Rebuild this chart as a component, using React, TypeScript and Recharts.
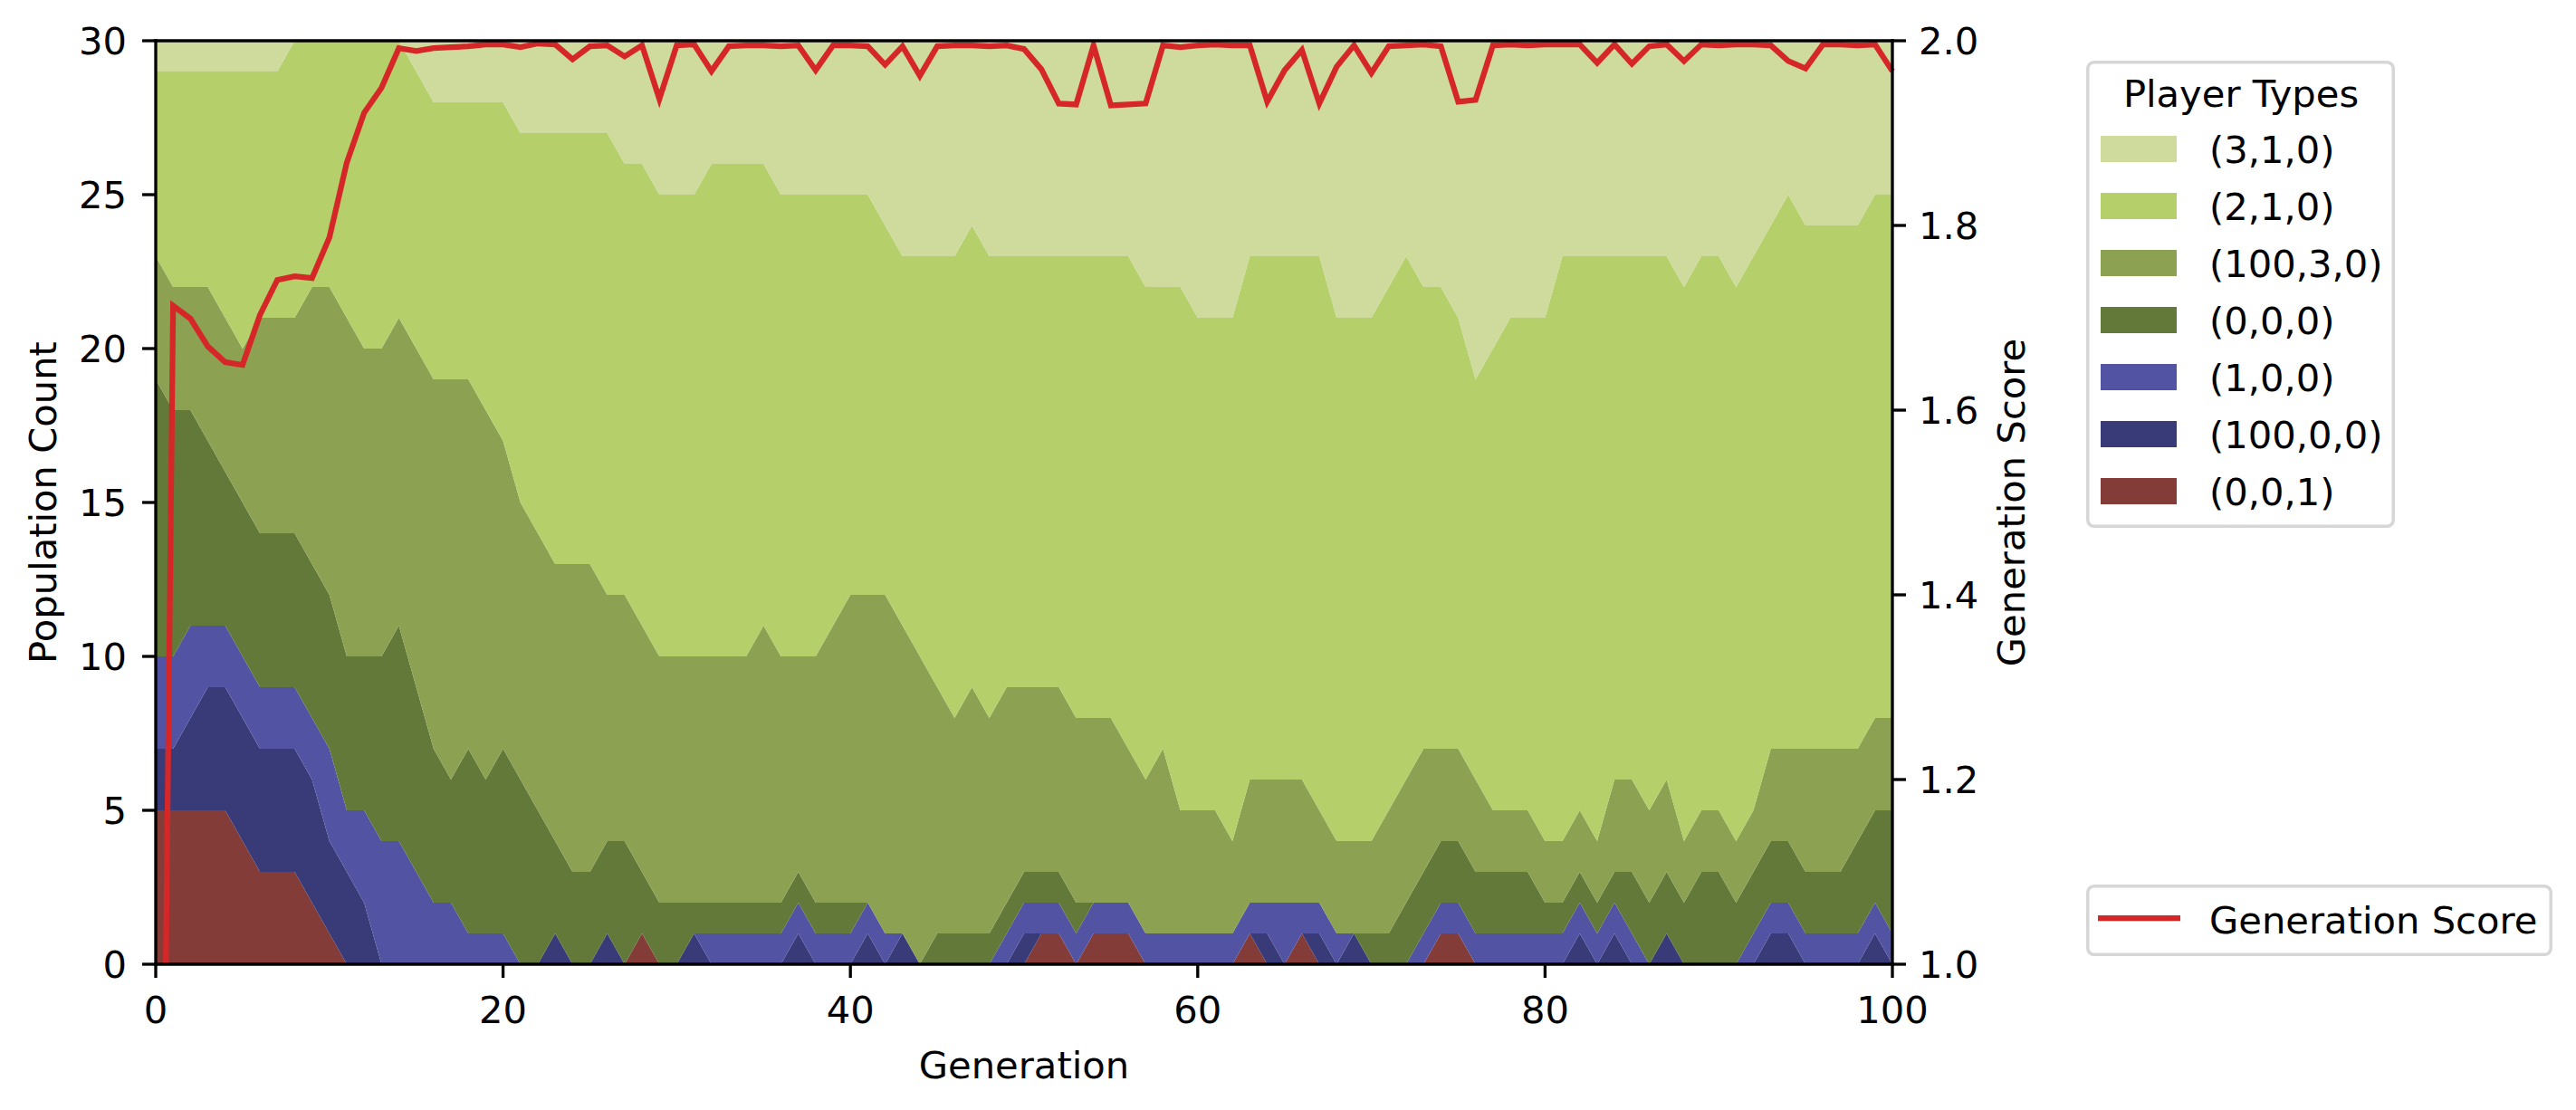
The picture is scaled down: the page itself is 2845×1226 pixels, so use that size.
import React from 'react';
import {
  ComposedChart,
  Area,
  Line,
  XAxis,
  YAxis,
  ReferenceLine,
  Label,
} from 'recharts';

// ---------- data ----------
const generations: number[] = Array.from({ length: 101 }, (_, i) => i);

// population counts per generation (stack order bottom -> top)
const p001 = [5,5,5,5,5,4,3,3,3,2,1,0,0,0,0,0,0,0,0,0,0,0,0,0,0,0,0,0,1,0,0,0,0,0,0,0,0,0,0,0,0,0,0,0,0,0,0,0,0,0,0,1,1,0,1,1,1,0,0,0,0,0,0,1,0,0,1,0,0,0,0,0,0,0,1,1,0,0,0,0,0,0,0,0,0,0,0,0,0,0,0,0,0,0,0,0,0,0,0,0,0];
const p10000 = [2,2,3,4,4,4,4,4,4,4,3,3,2,0,0,0,0,0,0,0,0,0,0,1,0,0,1,0,0,0,0,1,0,0,0,0,0,1,0,0,0,1,0,1,0,0,0,0,0,0,1,0,0,0,0,0,0,0,0,0,0,0,0,0,1,0,0,1,0,1,0,0,0,0,0,0,0,0,0,0,0,0,1,0,1,0,0,1,0,0,0,0,0,1,1,0,0,0,0,1,0];
const p100 = [3,3,3,2,2,2,2,2,2,2,3,2,3,4,4,3,2,2,1,1,1,0,0,0,0,0,0,0,0,0,0,0,1,1,1,1,1,1,1,1,1,1,1,0,0,0,0,0,0,1,1,1,1,1,1,1,1,1,1,1,1,1,1,1,1,2,1,1,1,0,0,0,0,1,1,1,1,1,1,1,1,1,1,1,1,1,0,0,0,0,0,0,1,1,1,1,1,1,1,1,1];
const p000 = [9,8,7,6,5,5,5,5,5,5,5,5,5,6,7,6,5,4,6,5,6,6,5,3,3,3,3,4,2,2,2,1,1,1,1,1,1,1,1,1,1,0,0,0,0,1,1,1,1,1,1,1,1,1,0,0,0,0,0,0,0,0,0,0,0,0,0,0,0,0,1,1,2,2,2,2,2,2,2,2,1,1,1,1,1,2,2,2,2,3,3,2,2,2,2,2,2,2,3,3,4];
const p10030 = [4,4,4,5,5,5,7,7,7,9,10,11,10,10,10,11,12,13,12,12,10,9,9,9,10,10,8,8,8,8,8,8,8,8,8,9,8,7,8,9,10,10,11,10,10,8,7,8,7,7,6,6,6,6,6,6,5,5,6,4,4,4,3,4,4,4,4,3,3,3,3,4,4,4,3,3,3,2,2,2,2,2,2,2,3,3,3,3,2,2,2,2,2,3,3,4,4,4,3,3,3];
const p210 = [6,7,7,7,8,9,8,8,9,8,8,9,10,10,9,9,9,9,9,10,11,12,13,14,14,14,15,14,15,15,15,15,16,16,16,15,15,15,15,14,13,13,12,12,13,14,15,15,15,14,14,14,14,15,15,15,16,16,15,17,16,16,17,17,17,17,17,18,17,17,17,17,17,15,15,14,13,15,16,16,17,19,18,19,17,17,18,17,18,18,18,18,18,17,18,17,17,17,17,17,17];
const p310 = [1,1,1,1,1,1,1,1,0,0,0,0,0,0,0,1,2,2,2,2,2,3,3,3,3,3,3,4,4,5,5,5,4,4,4,4,5,5,5,5,5,5,6,7,7,7,7,6,7,7,7,7,7,7,7,7,7,8,8,8,9,9,9,7,7,7,7,7,9,9,9,8,7,8,8,9,11,10,9,9,9,7,7,7,7,7,7,7,8,7,7,8,7,6,5,6,6,6,6,5,5];

// generation score (right axis)
const scores = [0,1.713,1.699,1.669,1.652,1.649,1.703,1.741,1.745,1.743,1.787,1.868,1.922,1.949,1.992,1.989,1.992,1.993,1.994,1.996,1.996,1.993,1.997,1.996,1.98,1.994,1.995,1.983,1.995,1.937,1.995,1.996,1.967,1.994,1.995,1.995,1.994,1.995,1.968,1.995,1.995,1.994,1.974,1.994,1.962,1.994,1.995,1.995,1.994,1.995,1.991,1.969,1.932,1.931,1.995,1.93,1.931,1.932,1.995,1.993,1.995,1.996,1.995,1.995,1.934,1.968,1.99,1.932,1.972,1.995,1.965,1.994,1.995,1.996,1.994,1.934,1.936,1.995,1.996,1.995,1.996,1.996,1.996,1.976,1.996,1.975,1.994,1.996,1.978,1.996,1.995,1.996,1.996,1.995,1.978,1.97,1.996,1.996,1.995,1.996,1.967];

const xTicks = [0, 20, 40, 60, 80, 100];
const leftTicks = [0, 5, 10, 15, 20, 25, 30];
const rightTicks = [1.0, 1.2, 1.4, 1.6, 1.8, 2.0];

const seriesKeys = ['p001', 'p10000', 'p100', 'p000', 'p10030', 'p210', 'p310'];
const seriesNames = ['(0,0,1)', '(100,0,0)', '(1,0,0)', '(0,0,0)', '(100,3,0)', '(2,1,0)', '(3,1,0)'];
const seriesColors = ['#843c39', '#393b79', '#5254a3', '#637939', '#8ca252', '#b5cf6b', '#cedb9c'];
const seriesValues = [p001, p10000, p100, p000, p10030, p210, p310];

const data = generations.map((g, i) => {
  const row: Record<string, number> = { gen: g, score: scores[i] };
  seriesKeys.forEach((k, j) => {
    row[k] = seriesValues[j][i];
  });
  return row;
});

// ---------- styles ----------
const FONT = 'DejaVu Sans';
const FS = 41.67;
const SPINE = 3.33;
const W = 2845;
const H = 1226;
const TOP = 45;
const LEFT_W = 172;
const RIGHT_W = 2845 - 2090;
const XAXIS_H = 1226 - 1065;

const tickStyle = { fill: '#000', fontSize: FS, fontFamily: FONT };
const axisLineStyle = { stroke: '#000', strokeWidth: SPINE, strokeLinecap: 'square' as const };
const tickLineStyle = { stroke: '#000', strokeWidth: SPINE };

const legendOrder = [6, 5, 4, 3, 2, 1, 0];

export default function App() {
  return (
    <div style={{ position: 'absolute', left: 0, top: 0, width: W, height: H, background: '#fff' }}>
      <ComposedChart
        width={W}
        height={H}
        data={data}
        margin={{ top: TOP, right: 0, bottom: 0, left: 0 }}
      >
        {seriesKeys.map((k, j) => (
          <Area
            key={k}
            yAxisId="left"
            dataKey={k}
            name={seriesNames[j]}
            stackId="pop"
            type="linear"
            stroke="none"
            fill={seriesColors[j]}
            fillOpacity={1}
            isAnimationActive={false}
            activeDot={false}
            dot={false}
          />
        ))}
        <Line
          yAxisId="right"
          dataKey="score"
          name="Generation Score"
          type="linear"
          stroke="#d62728"
          strokeWidth={6.25}
          dot={false}
          activeDot={false}
          isAnimationActive={false}
        />
        <XAxis
          dataKey="gen"
          type="number"
          domain={[0, 100]}
          ticks={xTicks}
          interval={0}
          height={XAXIS_H}
          tickSize={15}
          tickMargin={20}
          tick={tickStyle}
          axisLine={axisLineStyle}
          tickLine={tickLineStyle}
        >
          <Label
            content={() => (
              <text x={1131} y={1191} textAnchor="middle" fontFamily={FONT} fontSize={FS} fill="#000">
                Generation
              </text>
            )}
          />
        </XAxis>
        <YAxis
          yAxisId="left"
          type="number"
          domain={[0, 30]}
          ticks={leftTicks}
          interval={0}
          width={LEFT_W}
          tickSize={15}
          tickMargin={17}
          tick={tickStyle}
          axisLine={axisLineStyle}
          tickLine={tickLineStyle}
        >
          <Label
            content={() => (
              <text
                x={62}
                y={555}
                transform="rotate(-90, 62, 555)"
                textAnchor="middle"
                fontFamily={FONT}
                fontSize={FS}
                fill="#000"
              >
                Population Count
              </text>
            )}
          />
        </YAxis>
        <YAxis
          yAxisId="right"
          orientation="right"
          type="number"
          domain={[1, 2]}
          allowDataOverflow
          ticks={rightTicks}
          interval={0}
          width={RIGHT_W}
          tickSize={15}
          tickMargin={14}
          tick={tickStyle}
          tickFormatter={(v: number) => v.toFixed(1)}
          axisLine={axisLineStyle}
          tickLine={tickLineStyle}
        >
          <Label
            content={() => (
              <text
                x={2236}
                y={555}
                transform="rotate(-90, 2236, 555)"
                textAnchor="middle"
                fontFamily={FONT}
                fontSize={FS}
                fill="#000"
              >
                Generation Score
              </text>
            )}
          />
        </YAxis>
        <ReferenceLine yAxisId="left" y={30} stroke="#000" strokeWidth={SPINE} strokeLinecap="square" />
      </ComposedChart>

      <svg
        width={W}
        height={H}
        style={{ position: 'absolute', left: 0, top: 0, pointerEvents: 'none' }}
        fontFamily={FONT}
        fontSize={FS}
      >
        {/* Player Types legend */}
        <rect x={2305.75} y={68.75} width={337.5} height={512.5} rx={7} ry={7} fill="#fff" fillOpacity={0.8} stroke="#d6d6d6" strokeWidth={3.5} />
        <text x={2475} y={118} textAnchor="middle" fill="#000">Player Types</text>
        {legendOrder.map((j, r) => {
          const cy = 164.5 + r * 63;
          return (
            <g key={seriesKeys[j]}>
              <rect x={2320} y={cy - 14.5} width={84} height={29} fill={seriesColors[j]} />
              <text x={2440} y={cy + 15} fill="#000">{seriesNames[j]}</text>
            </g>
          );
        })}
        {/* Generation Score legend */}
        <rect x={2305.75} y={978.75} width={511.5} height={75.5} rx={7} ry={7} fill="#fff" fillOpacity={0.8} stroke="#d6d6d6" strokeWidth={3.5} />
        <line x1={2317} x2={2408} y1={1014} y2={1014} stroke="#d62728" strokeWidth={6.25} />
        <text x={2440} y={1031} fill="#000">Generation Score</text>
      </svg>
    </div>
  );
}
